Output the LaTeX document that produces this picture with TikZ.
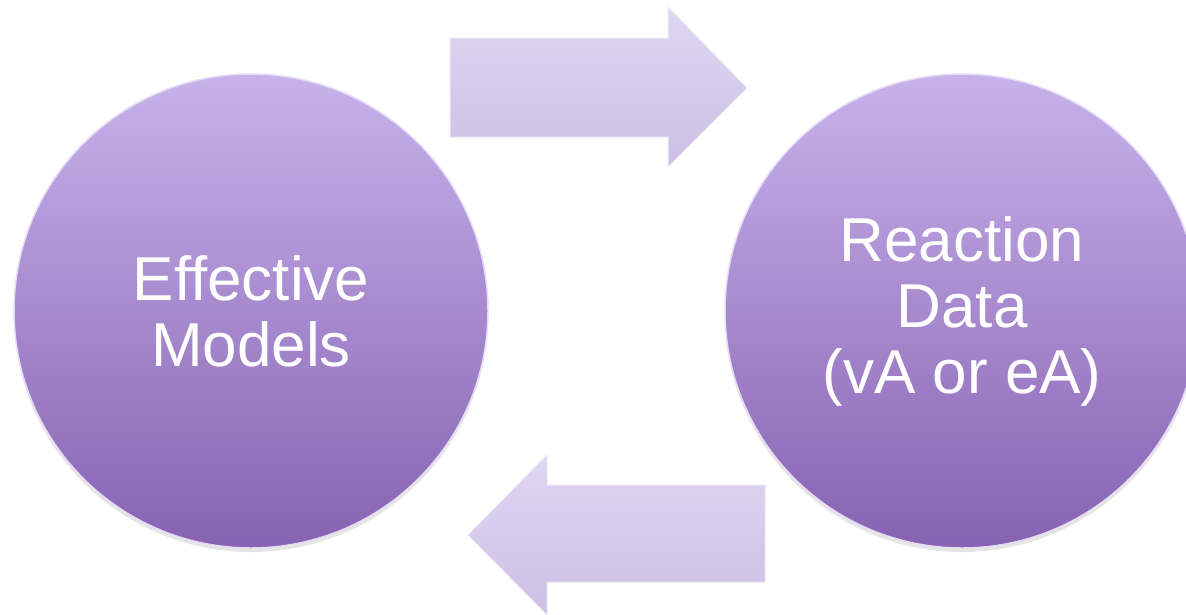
\documentclass[tikz,border=0pt]{standalone}
\usepackage{fontspec}
\setmainfont{Liberation Sans}
\definecolor{circtop}{RGB}{199,178,235}
\definecolor{circbot}{RGB}{135,98,178}
\definecolor{arrtop}{RGB}{223,214,242}
\definecolor{arrbot}{RGB}{204,191,228}
\begin{document}
\begin{tikzpicture}[x=1pt,y=-1pt,
    bubble/.style={circle, minimum size=474pt, inner sep=0pt,
      top color=circtop, bottom color=circbot,
      draw=white!55!circtop, line width=1.5pt,
      text=white, align=center, font=\fontsize{62}{66}\selectfont},
    blockarrow/.style={top color=arrtop, bottom color=arrbot,
      draw=white!45!arrtop, line width=1pt, line join=miter}]
      \useasboundingbox (0,0) rectangle (1186,614);
      % soft shadows
      \fill [black, opacity=0.10] (251,315) circle (237);
      \fill [black, opacity=0.10] (962,315) circle (237);
      \node [bubble] (models) at (251,311) {Effective\\Models};
      \node [bubble] (data) at (962,311) {Reaction\\Data\\(vA or eA)};
      % arrow models -> data
      \draw [blockarrow] (450,38) -- (668,38) -- (668,7) -- (747,88)
            -- (668,167) -- (668,137) -- (450,137) -- cycle;
      % arrow data -> models
      \draw [blockarrow] (765,485) -- (547,485) -- (547,455) -- (468,535)
            -- (547,615) -- (547,582) -- (765,582) -- cycle;
    \end{tikzpicture}
\end{document}
